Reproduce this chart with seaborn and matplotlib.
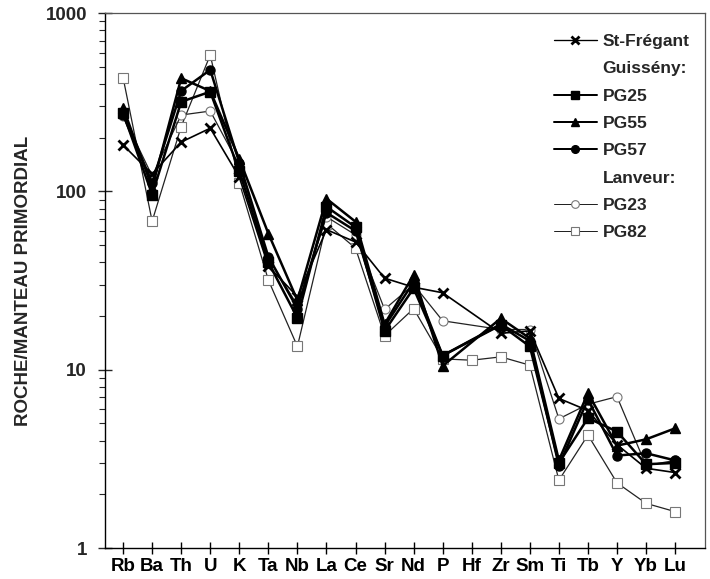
import numpy as np
import pandas as pd
import matplotlib
matplotlib.use("Agg")
import matplotlib.pyplot as plt
from matplotlib.lines import Line2D
from matplotlib.ticker import FixedLocator, FixedFormatter, LogLocator, NullFormatter
import seaborn as sns

elements = ["Rb", "Ba", "Th", "U", "K", "Ta", "Nb", "La", "Ce", "Sr",
            "Nd", "P", "Hf", "Zr", "Sm", "Ti", "Tb", "Y", "Yb", "Lu"]
nan = np.nan
st_fregant = [182, 125, 189, 226, 120, 38, 25.7, 61, 52, 32.6,
              29, 27, nan, 16, 16.5, 6.9, 5.9, 3.8, 2.8, 2.65]
pg25 = [275, 96, 318, 362, 130, 40, 19.5, 82, 63, 16.5,
        28.6, 12, nan, 17.8, 13.5, 3.0, 5.35, 4.5, 2.95, 3.0]
pg55 = [295, 105, 431, 365, 152, 58, 24.5, 91, 67.6, 18,
        34, 10.5, nan, 19.4, 15, 3.1, 7.4, 3.75, 4.07, 4.69]
pg57 = [268, 112, 366, 480, 145, 43, 22, 76, 60, 17.5,
        31, 12, nan, 18, 14.5, 2.9, 6.8, 3.3, 3.4, 3.1]
pg23 = [266, 122, 268, 282, 140, 42, 23, 72, 57, 21.8,
        30, 18.8, nan, 16.8, 16.8, 5.3, 6.4, 7.06, 2.9, 3.1]
pg82 = [434, 68, 231, 582, 112, 31.8, 13.5, 66, 48, 15.5,
        22, 11.5, 11.3, 11.8, 10.6, 2.4, 4.3, 2.32, 1.78, 1.6]

series = {"St-Frégant": st_fregant, "PG25": pg25, "PG55": pg55,
          "PG57": pg57, "PG23": pg23, "PG82": pg82}

rows = []
for name, vals in series.items():
    for i, (el, v) in enumerate(zip(elements, vals)):
        rows.append({"sample": name, "pos": i, "element": el, "value": v})
df = pd.DataFrame(rows).dropna()

sns.set_theme(style="white")
plt.rcParams["font.family"] = ["Liberation Sans", "DejaVu Sans"]
plt.rcParams["font.weight"] = "bold"

fig = plt.figure(figsize=(7.10, 5.79), dpi=100)
ax = fig.add_axes([0.148, 0.0535, 0.845, 0.924])

styles = {
    "St-Frégant": dict(marker="x", color="black", lw=1.2, ms=7, mew=2.0,
                       mfc="black", mec="black"),
    "PG25": dict(marker="s", color="black", lw=1.8, ms=6.5, mew=1,
                 mfc="black", mec="black"),
    "PG55": dict(marker="^", color="black", lw=1.8, ms=7, mew=1,
                 mfc="black", mec="black"),
    "PG57": dict(marker="o", color="black", lw=1.8, ms=6.5, mew=1,
                 mfc="black", mec="black"),
    "PG23": dict(marker="o", color="#222222", lw=0.9, ms=6.5, mew=0.8,
                 mfc="white", mec="#777777"),
    "PG82": dict(marker="s", color="#222222", lw=0.9, ms=6.5, mew=0.8,
                 mfc="white", mec="#777777"),
}
order = ["PG82", "PG23", "PG57", "PG25", "PG55", "St-Frégant"]
for name in order:
    st = styles[name]
    sub = df[df["sample"] == name]
    sns.lineplot(data=sub, x="pos", y="value", ax=ax, sort=False,
                 estimator=None, color=st["color"], linewidth=st["lw"],
                 marker=st["marker"], markersize=st["ms"],
                 markeredgewidth=st["mew"], markerfacecolor=st["mfc"],
                 markeredgecolor=st["mec"], legend=False)

ax.set_yscale("log")
ax.set_ylim(1, 1000)
ax.set_xlim(-0.62, 20.03)
ax.yaxis.set_major_locator(FixedLocator([1, 10, 100, 1000]))
ax.yaxis.set_major_formatter(FixedFormatter(["1", "10", "100", "1000"]))
ax.yaxis.set_minor_locator(LogLocator(base=10, subs=np.arange(2, 10)))
ax.yaxis.set_minor_formatter(NullFormatter())
ax.set_xticks(range(len(elements)))
ax.set_xticklabels(elements)
ax.tick_params(axis="x", direction="inout", length=9, width=1, colors="black",
               labelsize=13.5, pad=3, bottom=True)
ax.tick_params(axis="y", which="major", direction="inout", length=10, width=1,
               labelsize=13.5, pad=8, left=True)
ax.tick_params(axis="y", which="minor", direction="out", length=4, width=0.8,
               left=True)
for lab in ax.get_xticklabels() + ax.get_yticklabels():
    lab.set_fontweight("bold")
ax.set_xlabel("")
ax.set_ylabel("ROCHE/MANTEAU PRIMORDIAL", fontsize=13.5, fontweight="bold",
              labelpad=10)

for side in ["left", "bottom"]:
    ax.spines[side].set_color("black")
    ax.spines[side].set_linewidth(1.0)
for side in ["top", "right"]:
    ax.spines[side].set_color("#555555")
    ax.spines[side].set_linewidth(0.9)

blank = Line2D([], [], linestyle="none", marker=None)
handles, labels = [], []
for name in ["St-Frégant", "Guisseny", "PG25", "PG55", "PG57", "Lanveur", "PG23", "PG82"]:
    if name == "Guisseny":
        handles.append(blank); labels.append("Guissény:")
        continue
    if name == "Lanveur":
        handles.append(blank); labels.append("Lanveur:")
        continue
    st = styles[name]
    handles.append(Line2D([], [], color=st["color"], lw=st["lw"] * 0.8,
                          marker=st["marker"], ms=st["ms"] * 0.85,
                          mew=st["mew"], mfc=st["mfc"], mec=st["mec"]))
    labels.append(name)
leg = ax.legend(handles, labels, loc="upper right", frameon=False,
                prop={"weight": "bold", "size": 12.5}, handlelength=2.5,
                handletextpad=0.3, labelspacing=0.7,
                bbox_to_anchor=(1.0, 0.99))

fig.savefig("out.png", dpi=100)
